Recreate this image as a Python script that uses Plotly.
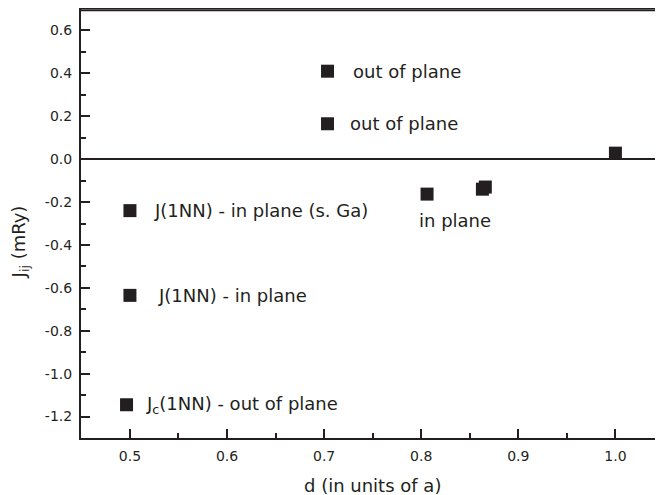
import plotly.graph_objects as go

# Data
d_values = [0.7035, 0.7035, 1.0, 0.806, 0.863, 0.866, 0.5, 0.5, 0.4965]
j_values = [0.41, 0.165, 0.028, -0.163, -0.14, -0.13, -0.24, -0.635, -1.145]

label_texts = ["out of plane", "out of plane", "in plane",
               "J(1NN) - in plane (s. Ga)", "J(1NN) - in plane",
               "J<sub>c</sub>(1NN) - out of plane"]
label_x = [0.7275, 0.7245, 0.7955, 0.5225, 0.527, 0.5145]
label_y = [0.41, 0.165, -0.285, -0.24, -0.635, -1.145]

x_tickvals = [0.5, 0.6, 0.7, 0.8, 0.9, 1.0]
y_tickvals = [0.6, 0.4, 0.2, 0.0, -0.2, -0.4, -0.6, -0.8, -1.0, -1.2]

ink = "#231f20"
font_family = "DejaVu Sans, sans-serif"

fig = go.Figure()
fig.add_trace(go.Scatter(
    x=d_values, y=j_values, mode="markers",
    marker=dict(symbol="square", size=13, color=ink, line=dict(width=0)),
    showlegend=False, hoverinfo="skip",
))

for t, x, y in zip(label_texts, label_x, label_y):
    fig.add_annotation(x=x, y=y, text=t, showarrow=False, xanchor="left",
                       yanchor="middle", font=dict(size=18, color=ink, family=font_family))

# axis titles
fig.add_annotation(xref="paper", yref="paper", x=0.5, y=-0.11, text="d (in units of a)",
                   showarrow=False, xanchor="center", yanchor="middle",
                   font=dict(size=18, color=ink, family=font_family))
fig.add_annotation(xref="paper", yref="paper", x=-0.105, y=0.458, text="J<sub>ij</sub> (mRy)",
                   textangle=-90, showarrow=False, xanchor="center", yanchor="middle",
                   font=dict(size=18, color=ink, family=font_family))

# top frame line, slightly inside the plot area
fig.add_shape(type="line", xref="paper", yref="paper", x0=0, x1=1, y0=0.997, y1=0.997,
              line=dict(color=ink, width=2), layer="above")

# page body has an 8px margin, so the figure is sized to fit inside the window
fig.update_layout(
    width=655, height=487,
    margin=dict(l=73, r=0, t=1, b=57),
    paper_bgcolor="white", plot_bgcolor="white",
    font=dict(family=font_family, color=ink, size=14),
    xaxis=dict(
        range=[0.4496, 1.049], tickvals=x_tickvals,
        ticktext=[f"{v:.1f}" for v in x_tickvals],
        ticks="inside", ticklen=9, tickwidth=1.5, tickcolor=ink,
        minor=dict(ticks="inside", ticklen=5, tickwidth=1.5, tickcolor=ink, dtick=0.05, tick0=0.45),
        showline=True, linecolor=ink, linewidth=2, mirror=True,
        showgrid=False, zeroline=False, automargin=False,
        tickfont=dict(size=14), ticklabelstandoff=4,
    ),
    yaxis=dict(
        range=[-1.3, 0.7], tickvals=y_tickvals,
        ticktext=[f"{v:.1f}" for v in y_tickvals],
        ticks="inside", ticklen=9, tickwidth=1.5, tickcolor=ink,
        minor=dict(ticks="inside", ticklen=5, tickwidth=1.5, tickcolor=ink, dtick=0.1, tick0=0.0),
        showline=True, linecolor=ink, linewidth=2,
        showgrid=False, zeroline=True, zerolinecolor=ink, zerolinewidth=1.5,
        automargin=False, tickfont=dict(size=14), ticklabelstandoff=4,
    ),
)

fig.write_html("out.html")
